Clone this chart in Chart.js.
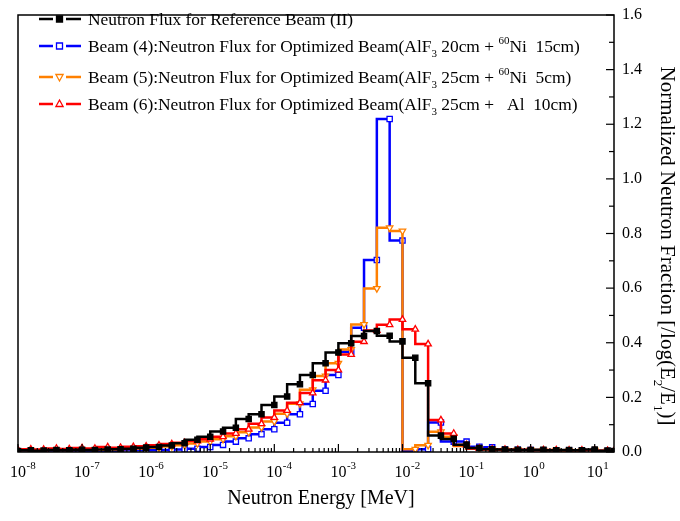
<!DOCTYPE html>
<html>
<head>
<meta charset="utf-8">
<script src="https://cdn.jsdelivr.net/npm/chart.js@4.4.0/dist/chart.umd.min.js"></script>
<style>
  html, body { margin: 0; padding: 0; background: #fff; }
</style>
</head>
<body>
<canvas id="myChart" width="680" height="521"></canvas>
<script>
// bin upper edges [MeV], 5 bins per decade
var energies = [
    1.000e-8, 1.585e-8, 2.512e-8, 3.981e-8, 6.310e-8,
    1.000e-7, 1.585e-7, 2.512e-7, 3.981e-7, 6.310e-7,
    1.000e-6, 1.585e-6, 2.512e-6, 3.981e-6, 6.310e-6,
    1.000e-5, 1.585e-5, 2.512e-5, 3.981e-5, 6.310e-5,
    1.000e-4, 1.585e-4, 2.512e-4, 3.981e-4, 6.310e-4,
    1.000e-3, 1.585e-3, 2.512e-3, 3.981e-3, 6.310e-3,
    1.000e-2, 1.585e-2, 2.512e-2, 3.981e-2, 6.310e-2,
    1.000e-1, 1.585e-1, 2.512e-1, 3.981e-1, 6.310e-1,
    1.000e0, 1.585e0, 2.512e0, 3.981e0, 6.310e0,
    1.000e1, 1.585e1, 2.000e1
];

var refBeam = [
    0.004, 0.006, 0.005, 0.007, 0.006, 0.008, 0.007, 0.009, 0.010, 0.012,
    0.016, 0.018, 0.024, 0.032, 0.045, 0.056, 0.075, 0.089, 0.121, 0.138,
    0.172, 0.203, 0.248, 0.282, 0.325, 0.364, 0.398, 0.425, 0.443, 0.426,
    0.405, 0.345, 0.252, 0.060, 0.048, 0.027, 0.015, 0.010, 0.009, 0.008,
    0.007, 0.008, 0.006, 0.007, 0.006, 0.009, 0.005, 0.004
];
var beam4 = [
    0.003, 0.004, 0.003, 0.005, 0.004, 0.005, 0.004, 0.005, 0.005, 0.006,
    0.006, 0.006, 0.007, 0.009, 0.012, 0.018, 0.026, 0.038, 0.050, 0.065,
    0.083, 0.107, 0.138, 0.176, 0.224, 0.282, 0.367, 0.455, 0.703, 1.219,
    0.774, 0.004, 0.010, 0.108, 0.038, 0.038, 0.019, 0.017, 0.009, 0.008,
    0.007, 0.006, 0.006, 0.005, 0.005, 0.006, 0.004, 0.003
];
var beam5 = [
    0.005, 0.006, 0.005, 0.007, 0.006, 0.007, 0.008, 0.008, 0.009, 0.011,
    0.013, 0.016, 0.020, 0.025, 0.031, 0.038, 0.047, 0.058, 0.072, 0.090,
    0.112, 0.140, 0.177, 0.228, 0.278, 0.325, 0.375, 0.467, 0.599, 0.821,
    0.809, 0.010, 0.025, 0.074, 0.056, 0.022, 0.012, 0.010, 0.008, 0.008,
    0.007, 0.006, 0.006, 0.005, 0.005, 0.006, 0.004, 0.003
];
var beam6 = [
    0.008, 0.010, 0.009, 0.013, 0.011, 0.015, 0.013, 0.018, 0.016, 0.019,
    0.021, 0.025, 0.029, 0.034, 0.040, 0.047, 0.056, 0.068, 0.083, 0.103,
    0.126, 0.152, 0.180, 0.216, 0.263, 0.300, 0.357, 0.404, 0.445, 0.466,
    0.485, 0.449, 0.395, 0.117, 0.068, 0.026, 0.013, 0.010, 0.009, 0.008,
    0.008, 0.007, 0.007, 0.006, 0.006, 0.007, 0.005, 0.004
];

var seriesLabels = [
    'Neutron Flux for Reference Beam (II)',
    'Beam (4):Neutron Flux for Optimized Beam(AlF_{3} 20cm + ^{60}Ni  15cm)',
    'Beam (5):Neutron Flux for Optimized Beam(AlF_{3} 25cm + ^{60}Ni  5cm)',
    'Beam (6):Neutron Flux for Optimized Beam(AlF_{3} 25cm +   Al  10cm)'
];
var xTickPowers = [-8, -7, -6, -5, -4, -3, -2, -1, 0, 1];
var yTickValues = [0, 0.2, 0.4, 0.6, 0.8, 1.0, 1.2, 1.4, 1.6];
var xTitle = 'Neutron Energy [MeV]';
var yTitle = 'Normalized Neutron Fraction [/log(E_{2}/E_{1})]';

var FONT = '"Liberation Serif", "Times New Roman", serif';

function toPoints(vals) {
    return vals.map(function (v, i) { return { x: energies[i], y: v }; });
}

function richParts(str) {
    var parts = [];
    str.split(/(_\{[^}]*\}|\^\{[^}]*\})/).forEach(function (s) {
        if (!s) return;
        if (s[0] === '_') parts.push({ t: s.slice(2, -1), k: 'sub' });
        else if (s[0] === '^') parts.push({ t: s.slice(2, -1), k: 'sup' });
        else parts.push({ t: s, k: 'n' });
    });
    return parts;
}

function drawRich(ctx, str, x, y, size, align) {
    var parts = richParts(str);
    var small = Math.round(size * 0.62);
    var w = 0;
    parts.forEach(function (p) {
        ctx.font = (p.k === 'n' ? size : small) + 'px ' + FONT;
        p.w = ctx.measureText(p.t).width;
        w += p.w;
    });
    var cx = align === 'center' ? x - w / 2 : x;
    ctx.textAlign = 'left';
    ctx.textBaseline = 'alphabetic';
    parts.forEach(function (p) {
        ctx.font = (p.k === 'n' ? size : small) + 'px ' + FONT;
        var dy = p.k === 'sub' ? size * 0.32 : (p.k === 'sup' ? -size * 0.42 : 0);
        ctx.fillText(p.t, cx, y + dy);
        cx += p.w;
    });
}

function drawMarker(ctx, kind, x, y, color) {
    ctx.save();
    ctx.lineWidth = 1.3;
    ctx.strokeStyle = color;
    ctx.fillStyle = kind === 'rectFilled' ? color : '#fff';
    ctx.beginPath();
    if (kind === 'rect' || kind === 'rectFilled') {
        ctx.rect(x - 3, y - 3, 6, 6);
    } else if (kind === 'up') {
        ctx.moveTo(x, y - 4); ctx.lineTo(x + 3.6, y + 2.5); ctx.lineTo(x - 3.6, y + 2.5); ctx.closePath();
    } else {
        ctx.moveTo(x, y + 4); ctx.lineTo(x + 3.6, y - 2.5); ctx.lineTo(x - 3.6, y - 2.5); ctx.closePath();
    }
    ctx.fill();
    ctx.stroke();
    ctx.restore();
}

var legendStyles = [
    { color: '#000000', marker: 'rectFilled' },
    { color: '#0000ff', marker: 'rect' },
    { color: '#ff8000', marker: 'down' },
    { color: '#ff0000', marker: 'up' }
];
var legendRows = [19, 46, 77, 104];

var decorPlugin = {
    id: 'decor',
    afterDraw: function (chart) {
        var ctx = chart.ctx;
        var a = chart.chartArea;
        var xs = chart.scales.x, ys = chart.scales.y;
        ctx.save();
        ctx.strokeStyle = '#000';
        ctx.fillStyle = '#000';
        // frame
        ctx.lineWidth = 1.5;
        ctx.strokeRect(a.left, a.top, a.right - a.left, a.bottom - a.top);

        // bottom ticks (inward) + labels
        ctx.lineWidth = 1.2;
        xTickPowers.forEach(function (p) {
            for (var m = 1; m <= 9; m++) {
                var v = m * Math.pow(10, p);
                if (v > xs.max) break;
                var px = xs.getPixelForValue(v);
                var len = m === 1 ? 8 : 4;
                ctx.beginPath();
                ctx.moveTo(px, a.bottom);
                ctx.lineTo(px, a.bottom - len);
                ctx.stroke();
            }
            var tx = xs.getPixelForValue(Math.pow(10, p));
            ctx.font = '16px ' + FONT;
            ctx.textAlign = 'center';
            ctx.textBaseline = 'alphabetic';
            ctx.fillText('10', tx, 477);
            var w10 = ctx.measureText('10').width;
            ctx.font = '11px ' + FONT;
            ctx.textAlign = 'left';
            ctx.fillText(String(p), tx + w10 / 2 + 0.5, 469);
        });

        // right ticks (inward) + labels
        for (var k = 0; k <= 16; k++) {
            var py = ys.getPixelForValue(k / 10);
            var len2 = k % 2 === 0 ? 8 : 5;
            ctx.beginPath();
            ctx.moveTo(a.right, py);
            ctx.lineTo(a.right - len2, py);
            ctx.stroke();
        }
        ctx.font = '16px ' + FONT;
        ctx.textAlign = 'left';
        ctx.textBaseline = 'middle';
        yTickValues.forEach(function (v) {
            ctx.fillText(v.toFixed(1), a.right + 8, ys.getPixelForValue(v));
        });

        // axis titles
        drawRich(ctx, xTitle, (a.left + a.right) / 2 + 5, 504, 20, 'center');
        ctx.save();
        ctx.translate(661, 246);
        ctx.rotate(Math.PI / 2);
        drawRich(ctx, yTitle, 0, 0, 21, 'center');
        ctx.restore();

        // legend
        legendStyles.forEach(function (s, i) {
            var y = legendRows[i];
            ctx.strokeStyle = s.color;
            ctx.lineWidth = 2.5;
            ctx.beginPath();
            ctx.moveTo(39, y);
            ctx.lineTo(53, y);
            ctx.moveTo(66, y);
            ctx.lineTo(81, y);
            ctx.stroke();
            drawMarker(ctx, s.marker, 59.5, y, s.color);
            ctx.fillStyle = '#000';
            drawRich(ctx, seriesLabels[i], 88, y + 5.5, 17.4, 'left');
        });
        ctx.restore();
    }
};

var ctx = document.getElementById('myChart').getContext('2d');

function ds(label, vals, color, style, rot, filled, order) {
    return {
        label: label,
        data: toPoints(vals),
        borderColor: color,
        borderWidth: 2.5,
        stepped: 'after',
        pointStyle: style,
        pointRotation: rot,
        pointRadius: 3.7,
        pointBorderWidth: 1.3,
        pointBorderColor: color,
        pointBackgroundColor: filled ? color : '#ffffff',
        fill: false,
        order: order
    };
}

var myChart = new Chart(ctx, {
    type: 'line',
    data: {
        datasets: [
            ds(seriesLabels[0], refBeam, '#000000', 'rect', 0, true, 0),
            ds(seriesLabels[1], beam4, '#0000ff', 'rect', 0, false, 3),
            ds(seriesLabels[2], beam5, '#ff8000', 'triangle', 180, false, 2),
            ds(seriesLabels[3], beam6, '#ff0000', 'triangle', 0, false, 1)
        ]
    },
    options: {
        responsive: false,
        animation: false,
        devicePixelRatio: 1,
        layout: { padding: { left: 18, top: 15, right: 0, bottom: 0 } },
        plugins: { legend: { display: false }, tooltip: { enabled: false } },
        scales: {
            x: {
                type: 'logarithmic',
                min: 1e-8,
                max: 20,
                grid: { display: false },
                border: { display: false },
                ticks: { display: false },
                afterFit: function (s) { s.height = 69; }
            },
            y: {
                position: 'right',
                min: 0,
                max: 1.6,
                grid: { display: false },
                border: { display: false },
                ticks: { display: false },
                afterFit: function (s) { s.width = 66; }
            }
        }
    },
    plugins: [decorPlugin]
});
</script>
</body>
</html>
